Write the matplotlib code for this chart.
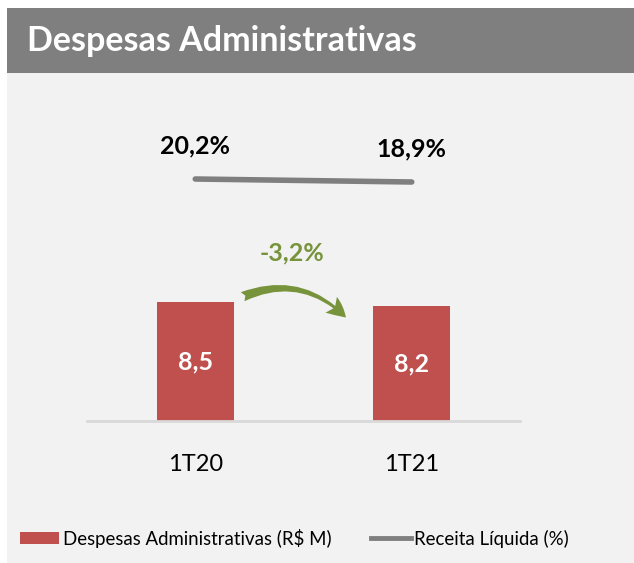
import matplotlib.pyplot as plt
from matplotlib.patches import Rectangle, FancyArrowPatch, Patch
from matplotlib.lines import Line2D

plt.rcParams['font.family'] = ['Lato', 'DejaVu Sans']

categorias = ['1T20', '1T21']
despesas = [8.5, 8.2]          # R$ M
receita_pct = [20.2, 18.9]     # % da receita liquida
variacao = '-3,2%'

W, H = 634, 563
fig = plt.figure(figsize=(W / 100, H / 100), dpi=100)
fig.patch.set_facecolor('white')

# painel de fundo e faixa do titulo
fig.patches.append(Rectangle((7 / W, 0), 1, 1 - 8 / H, transform=fig.transFigure,
                             facecolor='#f2f2f2', edgecolor='none', zorder=-2))
fig.patches.append(Rectangle((7 / W, 1 - 73 / H), 1, 65 / H, transform=fig.transFigure,
                             facecolor='#7f7f7f', edgecolor='none', zorder=-1))
fig.text(27 / W, 1 - 41 / H, 'Despesas Administrativas', color='white',
         fontsize=24.5, fontweight='bold', va='center', ha='left')

# eixo principal (barras)
px_unit = 14.0
base, top = 421, 100
ax = fig.add_axes([87 / W, 1 - base / H, 433 / W, (base - top) / H])
ax.set_facecolor('none')
x = list(range(len(categorias)))
bars = ax.bar(x, despesas, width=0.355, color='#c0504d', zorder=2)
ax.set_xlim(-0.5, 1.5)
ax.set_ylim(0, (base - top) / px_unit)
for s in ['top', 'right', 'left']:
    ax.spines[s].set_visible(False)
ax.spines['bottom'].set_color('#d9d9d9')
ax.spines['bottom'].set_linewidth(2)
ax.set_yticks([])
ax.set_xticks(x)
ax.set_xticklabels(categorias, fontsize=17)
ax.tick_params(axis='x', length=0, pad=24)
for xi, v in zip(x, despesas):
    ax.text(xi, v / 2, f'{v:.1f}'.replace('.', ','), ha='center', va='center',
            color='white', fontsize=18, fontweight='bold', zorder=3)

# eixo secundario (linha %)
ax2 = ax.twinx()
pct_px = 3 / 1.3
lo = receita_pct[0] - 242 / pct_px
ax2.set_ylim(lo, lo + (base - top) / pct_px)
ax2.plot(x, receita_pct, color='#7f7f7f', lw=4, solid_capstyle='round')
ax2.axis('off')
for xi, v in zip(x, receita_pct):
    ax2.annotate(f'{v:.1f}%'.replace('.', ','), (xi, v), xytext=(0, 24),
                 textcoords='offset points', ha='center', va='center',
                 fontsize=18, fontweight='bold', color='black')

# seta de variacao
ax.add_patch(FancyArrowPatch((0.207, despesas[0] + 0.3), (0.705, despesas[1] - 0.95),
                             connectionstyle='arc3,rad=-0.35',
                             arrowstyle='fancy,head_width=14,head_length=14,tail_width=7',
                             color='#77933c', lw=0, zorder=4))
ax.text(0.447, 12.0, variacao, ha='center', va='center', color='#77933c',
        fontsize=18, fontweight='bold')

# legenda
handles = [Patch(facecolor='#c0504d', edgecolor='none', label='Despesas Administrativas (R$ M)'),
           Line2D([], [], color='#7f7f7f', lw=3.5, label='Receita Líquida (%)')]
fig.legend(handles=handles, loc='center left', bbox_to_anchor=(20 / W, 1 - 538 / H),
           ncol=2, frameon=False, fontsize=13.4, handlelength=2.1, handleheight=0.55,
           handletextpad=0.2, columnspacing=2.15, borderpad=0, borderaxespad=0)

fig.savefig('out.png', dpi=100, facecolor=fig.get_facecolor())
